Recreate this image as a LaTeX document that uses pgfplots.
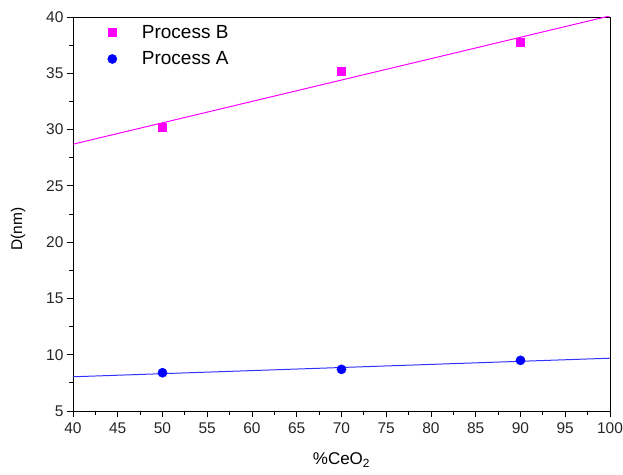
\documentclass[border=0pt]{standalone}
\usepackage{pgfplots}
\pgfplotsset{compat=1.18}
\usepackage{fontspec}
\setmainfont{Liberation Sans}
\definecolor{mag}{RGB}{255,0,255}
\definecolor{blu}{RGB}{0,0,255}
\definecolor{blul}{RGB}{50,50,255}
\begin{document}
\begin{tikzpicture}[x=1bp,y=1bp]
\useasboundingbox (-73bp,-64bp) rectangle (550bp,411bp);
\begin{axis}[
  at={(0,0)}, anchor=south west,
  scale only axis, width=537bp, height=394bp,
  xmin=40, xmax=100, ymin=5, ymax=40,
  xtick={40,45,...,100}, ytick={5,10,...,40},
  minor x tick num=1, minor y tick num=1,
  tick align=outside, axis line style={line width=1pt},
  major tick length=6bp, minor tick length=3.5bp,
  every tick/.style={black, line width=0.9pt},
  xtick pos=bottom, ytick pos=left,
  /pgf/number format/assume math mode=true,
  ticklabel style={font=\fontsize{15.5bp}{17bp}\selectfont, text=black!85},
  xticklabel style={yshift=-2bp},
  xlabel={\%CeO\textsubscript{2}}, ylabel={D(nm)},
  label style={font=\fontsize{17bp}{19bp}\selectfont},
  xlabel style={at={(axis description cs:0.5,-0.137)}, anchor=base},
  ylabel style={at={(axis description cs:-0.1024,0.462)}, anchor=center, font=\fontsize{15.5bp}{17bp}\selectfont},
  legend image code/.code={\draw[#1] plot coordinates {(0bp,0bp)};},
  legend style={draw=none, fill=none, at={(axis description cs:0.0587,0.99)}, anchor=north west,
    font=\fontsize{19bp}{21bp}\selectfont, row sep=8bp, column sep=25bp,
    nodes={inner xsep=0bp, inner ysep=2bp}},
  legend cell align=left,
]
\addplot[only marks, mark=square*, mark size=4bp, color=mag, mark options={fill=mag}]
  coordinates {(50,30.2) (70,35.2) (90,37.8)};
\addlegendentry{Process B}
\addplot[only marks, mark=*, mark size=4.6bp, color=blu, mark options={fill=blu}]
  coordinates {(50,8.4) (70,8.7) (90,9.5)};
\addlegendentry{Process A}
\addplot[forget plot, mag, line width=1pt] coordinates {(40,28.7) (100,40.1)};
\addplot[forget plot, blul, line width=1pt] coordinates {(40,8.04) (100,9.69)};
\end{axis}
\end{tikzpicture}
\end{document}
